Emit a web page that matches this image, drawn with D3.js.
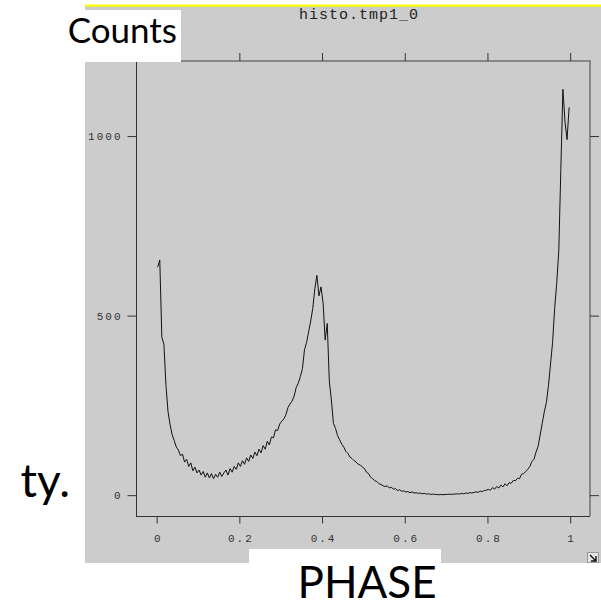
<!DOCTYPE html>
<html>
<head>
<meta charset="utf-8">
<script src="https://cdn.jsdelivr.net/npm/d3@7"></script>
<style>
  body { margin: 0; background: #fff; }
  svg { display: block; }
</style>
</head>
<body>
<svg width="601" height="606"></svg>
<script>
// histogram bins (phase 0..1, 200 bins), counts
var binWidth = 0.005;
var counts = [
  635, 655, 440, 420, 305, 232, 196, 168, 152, 134,
  126, 110, 114, 92, 100, 80, 90, 68, 78, 62,
  70, 56, 66, 50, 62, 48, 60, 46, 58, 50,
  64, 52, 62, 70, 56, 74, 64, 80, 72, 90,
  80, 96, 86, 104, 94, 112, 102, 120, 110, 128,
  118, 138, 128, 150, 140, 162, 160, 182, 180, 198,
  206, 212, 224, 244, 254, 262, 276, 300, 312, 330,
  352, 405, 425, 455, 485, 520, 575, 612, 555, 580,
  535, 432, 478, 318, 265, 200, 186, 166, 154, 142,
  134, 122, 116, 106, 102, 96, 92, 86, 84, 78,
  74, 64, 60, 50, 46, 40, 38, 32, 30, 26,
  24, 26, 20, 22, 17, 18, 13, 15, 11, 12,
  9, 10, 7, 9, 6, 7, 5, 6, 4, 5,
  3, 4, 2, 3, 2, 2, 1, 2, 1, 2,
  2, 3, 2, 3, 3, 4, 3, 5, 4, 6,
  5, 7, 6, 8, 9, 8, 11, 10, 13, 14,
  16, 14, 21, 17, 24, 20, 28, 23, 32, 26,
  35, 33, 41, 40, 47, 46, 58, 60, 66, 72,
  80, 94, 100, 120, 136, 168, 200, 232, 258, 305,
  365, 425, 520, 590, 680, 910, 1130, 1040, 990, 1080
];
var xTicks = [0, 0.2, 0.4, 0.6, 0.8, 1];
var xTickLabels = ["0", "0.2", "0.4", "0.6", "0.8", "1"];
var yTicks = [0, 500, 1000];
var yTickLabels = ["0", "500", "1000"];
var title = "histo.tmp1_0";

var svg = d3.select("svg");

// grey viewer panel + yellow strip
svg.append("rect").attr("x", 85).attr("y", 6).attr("width", 516).attr("height", 557).attr("fill", "#cccccc");
svg.append("rect").attr("x", 85).attr("y", 4.5).attr("width", 516).attr("height", 2.2).attr("fill", "#ffff00");

var pLeft = 136, pRight = 590, pTop = 61, pBottom = 516;

var x = d3.scaleLinear().domain([-0.05, 1.048]).range([pLeft, pRight]);
var y = d3.scaleLinear().domain([-58, 1209]).range([pBottom, pTop]);

// frame
svg.append("line").attr("x1", pLeft).attr("x2", pRight + 1).attr("y1", pTop).attr("y2", pTop)
  .attr("stroke", "#707070").attr("stroke-width", 1.5);
svg.append("line").attr("x1", pRight).attr("x2", pRight).attr("y1", pTop).attr("y2", pBottom)
  .attr("stroke", "#707070").attr("stroke-width", 1.5);
svg.append("line").attr("x1", pLeft + 0.5).attr("x2", pLeft + 0.5).attr("y1", pTop).attr("y2", pBottom)
  .attr("stroke", "#333").attr("stroke-width", 1);
svg.append("line").attr("x1", pLeft).attr("x2", pRight).attr("y1", pBottom + 0.5).attr("y2", pBottom + 0.5)
  .attr("stroke", "#333").attr("stroke-width", 1);

function styleAxis(g) {
  g.select(".domain").remove();
  g.selectAll(".tick line").attr("stroke", "#333");
  g.selectAll(".tick text")
    .attr("fill", "#333")
    .style("font-family", "'Liberation Mono', 'DejaVu Sans Mono', monospace")
    .style("font-size", "11px")
    .style("letter-spacing", "2px");
}

svg.append("g")
  .attr("transform", "translate(0," + (pBottom + 0.5) + ")")
  .call(d3.axisBottom(x).tickValues(xTicks).tickSize(7).tickPadding(11)
    .tickFormat(function (d, i) { return xTickLabels[i]; }))
  .call(styleAxis)
  .selectAll(".tick text").attr("dx", "1px");

svg.append("g")
  .attr("transform", "translate(0," + pTop + ")")
  .call(d3.axisTop(x).tickValues(xTicks).tickSize(8).tickFormat(""))
  .call(styleAxis);

svg.append("g")
  .attr("transform", "translate(" + (pLeft + 0.5) + ",0)")
  .call(d3.axisLeft(y).tickValues(yTicks).tickSize(9).tickPadding(5)
    .tickFormat(function (d, i) { return yTickLabels[i]; }))
  .call(styleAxis);

svg.append("g")
  .attr("transform", "translate(" + pRight + ",0)")
  .call(d3.axisRight(y).tickValues(yTicks).tickSize(9).tickFormat(""))
  .call(styleAxis);

// histogram curve
var line = d3.line()
  .x(function (d, i) { return x((i + 0.5) * binWidth); })
  .y(function (d) { return y(d); });

svg.append("path")
  .datum(counts)
  .attr("d", line)
  .attr("fill", "none")
  .attr("stroke", "#111")
  .attr("stroke-width", 1);

svg.append("text")
  .attr("x", 359).attr("y", 19)
  .attr("text-anchor", "middle")
  .attr("fill", "#222")
  .style("font-family", "'Liberation Mono', monospace")
  .style("font-size", "15px")
  .style("letter-spacing", "1px")
  .text(title);

// resize corner icon
svg.append("rect").attr("x", 587.5).attr("y", 552.5).attr("width", 11).attr("height", 10)
  .attr("fill", "#e4e4e4").attr("stroke", "#999");
svg.append("path").attr("d", "M590,555 L596,561 M596,556 L596,561 L591,561")
  .attr("fill", "none").attr("stroke", "#111").attr("stroke-width", 1.4);

// slide overlays
svg.append("rect").attr("x", 85).attr("y", 10).attr("width", 96).attr("height", 52).attr("fill", "#fff");
svg.append("rect").attr("x", 249).attr("y", 549).attr("width", 192).attr("height", 14).attr("fill", "#fff");

var slideFont = "Lato, 'Open Sans', sans-serif";
svg.append("text").attr("x", 177).attr("y", 43).attr("text-anchor", "end")
  .style("font-family", slideFont).style("font-size", "35px").attr("fill", "#000")
  .text("Counts");
svg.append("text").attr("x", 367).attr("y", 598).attr("text-anchor", "middle")
  .style("font-family", slideFont).style("font-size", "44px").attr("fill", "#000")
  .text("PHASE");
svg.append("text").attr("x", 70).attr("y", 497).attr("text-anchor", "end")
  .style("font-family", slideFont).style("font-size", "46px").attr("fill", "#000")
  .text("ty.");
</script>
</body>
</html>
